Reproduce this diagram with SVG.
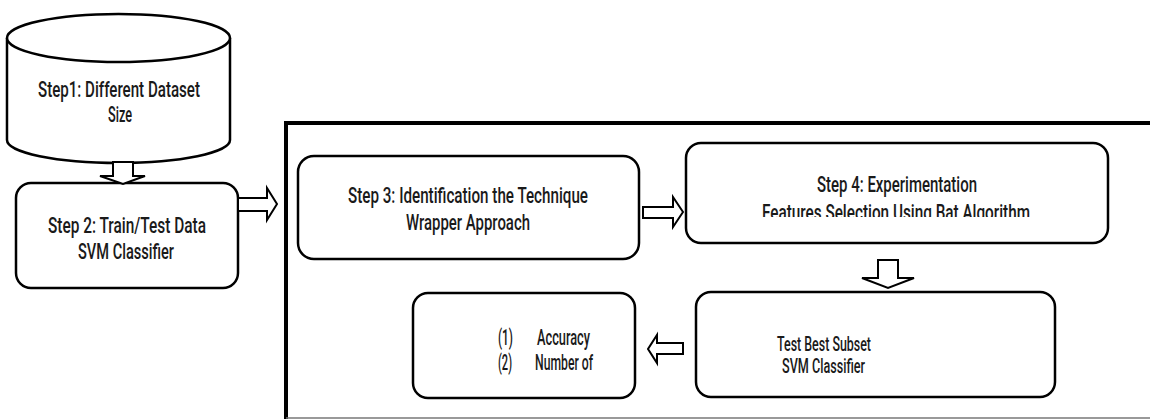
<svg xmlns="http://www.w3.org/2000/svg" width="1150" height="419" viewBox="0 0 1150 419">
<style>
.box{fill:#fff;stroke:#000;stroke-width:2.5}
.arr{fill:#fff;stroke:#000;stroke-width:2;stroke-linejoin:miter}
text{font-family:Roboto,"DejaVu Sans Condensed","Liberation Sans",sans-serif;font-size:22px;font-weight:500;fill:#1a1a1a}
.sm{font-size:21px}
</style>
<defs>
<clipPath id="clip4"><rect x="686" y="143" width="422" height="74"/></clipPath>
</defs>
<rect width="1150" height="419" fill="#fff"/>
<g id="frame">
<line x1="286" y1="123" x2="1150" y2="123" stroke="#000" stroke-width="4"/>
<line x1="286" y1="121" x2="286" y2="419" stroke="#000" stroke-width="4"/>
<line x1="286" y1="418" x2="1150" y2="418" stroke="#777" stroke-width="1.5"/>
</g>
<g id="step1">
<path class="box" d="M7,38 A111.5,24 0 0,1 230,38 L230,140 A111.5,23 0 0,1 7,140 Z"/>
<path class="box" fill="none" d="M7,38 A111.5,24 0 0,0 230,38"/>
<text x="38" y="97" textLength="162" lengthAdjust="spacingAndGlyphs">Step1: Different Dataset</text>
<text x="108" y="122" textLength="24" lengthAdjust="spacingAndGlyphs">Size</text>
</g>
<g id="step2">
<rect class="box" x="16" y="183" width="222" height="105" rx="15"/>
<text x="48" y="233" textLength="158" lengthAdjust="spacingAndGlyphs">Step 2: Train/Test Data</text>
<text x="78" y="259" textLength="96" lengthAdjust="spacingAndGlyphs">SVM Classifier</text>
</g>
<g id="step3">
<rect class="box" x="298" y="156" width="341" height="103" rx="16"/>
<text x="348" y="203" textLength="240" lengthAdjust="spacingAndGlyphs">Step 3: Identification the Technique</text>
<text x="406" y="230" textLength="124" lengthAdjust="spacingAndGlyphs">Wrapper Approach</text>
</g>
<g id="step4">
<rect class="box" x="686" y="143" width="422" height="100" rx="15"/>
<text x="817" y="192" textLength="160" lengthAdjust="spacingAndGlyphs">Step 4: Experimentation</text>
<text x="762" y="220" textLength="268" lengthAdjust="spacingAndGlyphs" clip-path="url(#clip4)">Features Selection Using Bat Algorithm</text>
</g>
<g id="test">
<rect class="box" x="696" y="292" width="359" height="105" rx="15"/>
<text class="sm" x="777" y="351" textLength="94" lengthAdjust="spacingAndGlyphs">Test Best Subset</text>
<text class="sm" x="782" y="373" textLength="83" lengthAdjust="spacingAndGlyphs">SVM Classifier</text>
</g>
<g id="result">
<rect class="box" x="413" y="293" width="222" height="105" rx="15"/>
<text x="498" y="345" textLength="15" lengthAdjust="spacingAndGlyphs">(1)</text>
<text x="537" y="345" textLength="53" lengthAdjust="spacingAndGlyphs">Accuracy</text>
<text x="498" y="370" textLength="14" lengthAdjust="spacingAndGlyphs">(2)</text>
<text x="535" y="370" textLength="58" lengthAdjust="spacingAndGlyphs">Number of</text>
</g>
<g id="connectors">
<polygon class="arr" points="113,162 133,162 133,176 145,176 123,184 100,176 113,176"/>
<polygon class="arr" points="238,198 267,198 267,188 277,204 267,220 267,211 238,211"/>
<polygon class="arr" points="643,207 673,207 673,197 683,212 673,227 673,218 643,218"/>
<polygon class="arr" points="878,260 898,260 898,278 914,278 888,288 862,278 878,278"/>
<polygon class="arr" points="683,343 657,343 657,335 648,349 657,363 657,354 683,354"/>
</g>
</svg>
